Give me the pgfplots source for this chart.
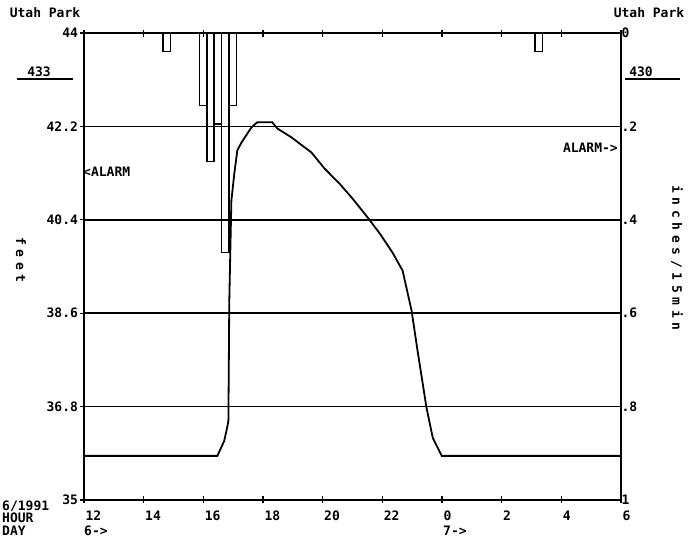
\documentclass[border=0pt]{standalone}
\usepackage{pgfplots}
\pgfplotsset{compat=1.18}
\usepackage{fontspec}
\setmainfont{DejaVu Sans Mono}
\newcommand{\lab}{\bfseries\fontsize{13}{14}\selectfont}
\begin{document}
\begin{tikzpicture}[font=\lab]
\useasboundingbox (-84pt,-41pt) rectangle (605pt,500pt);
\begin{axis}[
  at={(0pt,0pt)}, anchor=south west,
  scale only axis, width=537pt, height=467pt,
  xmin=12, xmax=30, ymin=35, ymax=44,
  axis line style={black, line width=1.1pt},
  xtick={12,14,16,18,20,22,24,26,28,30},
  xticklabels={12,14,16,18,20,22,0,2,4,6},
  xtick pos=both,
  ytick={35,36.8,38.6,40.4,42.2,44},
  yticklabels={35,36.8,38.6,40.4,42.2,44},
  ytick pos=left,
  tick align=center,
  major tick length=7pt,
  tick style={black, line width=1.2pt},
  ymajorgrids,
  grid style={black, line width=1.6pt},
  /pgf/number format/assume math mode=true,
  ticklabel style={font=\lab},
  xticklabel style={anchor=north west, xshift=-2pt, yshift=-4pt},
  yticklabel style={xshift=1pt},
]
\addplot[black, line width=1.8pt] coordinates {
(12,35.85) (16.47,35.85) (16.70,36.14) (16.80,36.40) (16.84,36.53) (16.87,38.84)
(16.94,40.77) (17.04,41.30) (17.14,41.74) (17.27,41.88) (17.61,42.18)
(17.81,42.28) (18.31,42.28) (18.48,42.16) (18.95,41.99) (19.62,41.70)
(20.06,41.39) (20.56,41.10) (21.00,40.81) (21.50,40.45) (21.91,40.14)
(22.34,39.77) (22.68,39.42) (22.98,38.65) (23.18,37.88) (23.48,36.78)
(23.69,36.20) (23.99,35.85) (30,35.85)
};
\end{axis}
\begin{axis}[
  at={(0pt,0pt)}, anchor=south west,
  scale only axis, width=537pt, height=467pt,
  xmin=12, xmax=30, ymin=0, ymax=1,
  y dir=reverse,
  axis x line=none,
  axis y line*=right,
  axis line style={black, line width=1.1pt},
  ytick={0,0.2,0.4,0.6,0.8,1},
  yticklabels={0,.2,.4,.6,.8,1},
  tick align=inside,
  major tick length=4pt,
  tick style={black, line width=1.2pt},
  /pgf/number format/assume math mode=true,
  ticklabel style={font=\lab},
  yticklabel style={xshift=-3pt},
]
\addplot[ybar, bar width=0.25, draw=black, fill=none, line width=1.5pt] coordinates {
(14.77,0.04) (15.99,0.155) (16.24,0.275) (16.49,0.195) (16.74,0.47) (16.99,0.155) (27.25,0.04)
};
\end{axis}
% text annotations
\node at (-39pt,487pt) {Utah Park};
\node at (565pt,487pt) {Utah Park};
\node at (-45pt,428pt) {433};
\draw[line width=1.2pt] (-67pt,421pt) -- (-11pt,421pt);
\node at (557pt,428pt) {430};
\draw[line width=1.2pt] (541pt,421pt) -- (596pt,421pt);
\node[anchor=west, inner sep=0pt] at (-1pt,328pt) {<ALARM};
\node[anchor=east, inner sep=0pt] at (534pt,352pt) {ALARM->};
\node[rotate=-90] at (-63pt,240pt) {\addfontfeature{LetterSpace=36}feet};
\node[rotate=-90] at (593pt,242pt) {\addfontfeature{LetterSpace=36}inches/15min};
\node[anchor=west, inner sep=0pt] at (-82pt,-6pt) {6/1991};
\node[anchor=west, inner sep=0pt] at (-82pt,-18pt) {HOUR};
\node[anchor=west, inner sep=0pt] at (-82pt,-31pt) {DAY};
\node[anchor=west, inner sep=0pt] at (0pt,-31pt) {6->};
\node[anchor=west, inner sep=0pt] at (359pt,-31pt) {7->};
\end{tikzpicture}
\end{document}
